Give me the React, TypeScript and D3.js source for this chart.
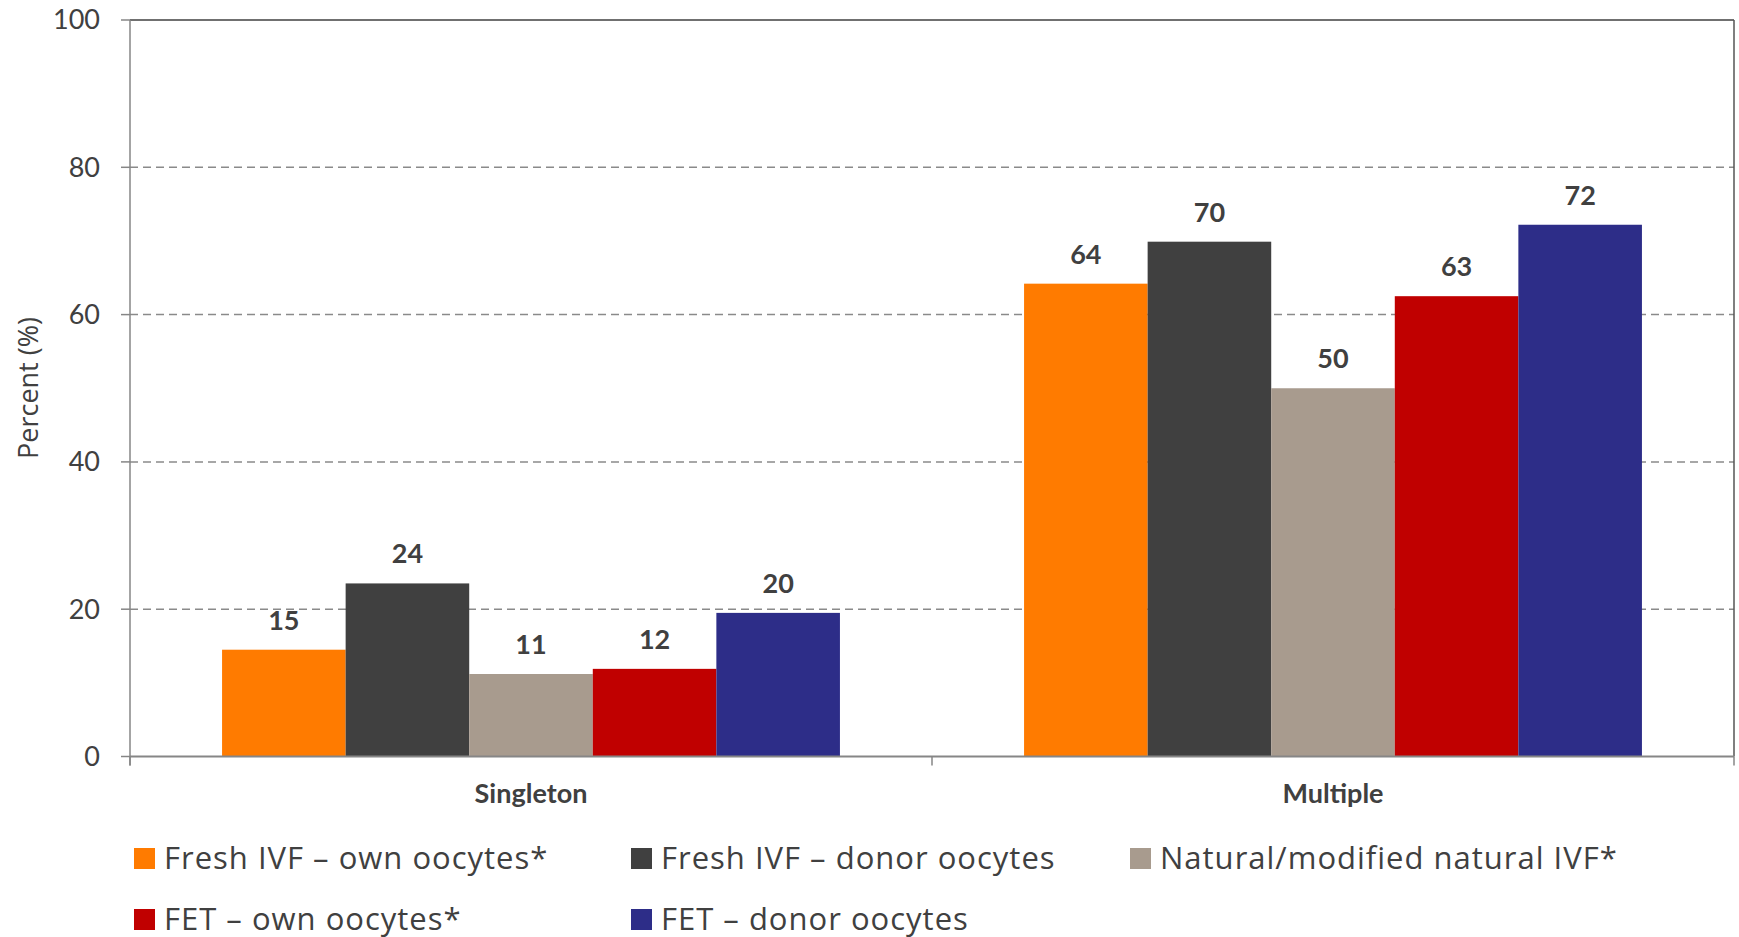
import React from "react";
import * as d3 from "d3";

const categories = ["Singleton", "Multiple"];
const seriesNames = [
  "Fresh IVF – own oocytes*",
  "Fresh IVF – donor oocytes",
  "Natural/modified natural IVF*",
  "FET – own oocytes*",
  "FET – donor oocytes",
];
const seriesColors = ["#FF7B00", "#404040", "#A89B8E", "#C00000", "#2D2D88"];
const singletonValues = [14.5, 23.5, 11.2, 11.9, 19.5];
const multipleValues = [64.2, 69.9, 50.0, 62.5, 72.2];
const singletonLabels = ["15", "24", "11", "12", "20"];
const multipleLabels = ["64", "70", "50", "63", "72"];
const yTicks = [0, 20, 40, 60, 80, 100];

const W = 1739;
const H = 937;
const FONT = "Lato, 'Open Sans', sans-serif";
const FONT2 = "'Open Sans', sans-serif";

export default function App() {
  const left = 130, right = 1734, top = 20, bottom = 756.5;
  const x0 = d3.scaleBand<string>().domain(categories).range([left, right]).paddingInner(0).paddingOuter(0);
  const x1 = d3.scaleBand<string>().domain(seriesNames).range([0, x0.bandwidth()]).paddingInner(0).paddingOuter(0.745);
  const y = d3.scaleLinear().domain([0, 100]).range([bottom, top]);

  const values = [singletonValues, multipleValues];
  const labels = [singletonLabels, multipleLabels];

  const legendPos = [
    { x: 134, y: 848 },
    { x: 631, y: 848 },
    { x: 1130, y: 848 },
    { x: 134, y: 909 },
    { x: 631, y: 909 },
  ];

  const catTicks = [left, left + x0.bandwidth(), right];

  return (
    <svg width={W} height={H} style={{ position: "absolute", left: 0, top: 0, background: "#fff" }} fontFamily={FONT}>
      {/* gridlines */}
      {yTicks.filter((t) => t > 0 && t < 100).map((t) => (
        <line key={"g" + t} x1={left} x2={right} y1={y(t)} y2={y(t)} stroke="#8a8a8a" strokeWidth={1.5} strokeDasharray="8,5" />
      ))}
      {/* top and right border */}
      <line x1={left} x2={right} y1={y(100)} y2={y(100)} stroke="#404040" strokeWidth={1.5} />
      <line x1={right} x2={right} y1={y(100)} y2={bottom} stroke="#555" strokeWidth={1.5} />
      {/* bars */}
      {categories.map((c, ci) =>
        seriesNames.map((s, si) => {
          const bx = (x0(c) as number) + (x1(s) as number);
          const v = values[ci][si];
          return (
            <g key={c + s}>
              <rect x={bx} y={y(v)} width={x1.bandwidth()} height={bottom - y(v)} fill={seriesColors[si]} />
              <text x={bx + x1.bandwidth() / 2} y={y(v) - 20} textAnchor="middle" fontSize={27} fontWeight="bold" fill="#404040">
                {labels[ci][si]}
              </text>
            </g>
          );
        })
      )}
      {/* y axis */}
      <line x1={left} x2={left} y1={y(100)} y2={bottom + 9} stroke="#868686" strokeWidth={1.5} />
      {yTicks.map((t) => (
        <g key={"t" + t}>
          <line x1={left - 9} x2={left} y1={y(t)} y2={y(t)} stroke="#868686" strokeWidth={1.5} />
          <text x={100} y={y(t)} dy="0.35em" textAnchor="end" fontSize={27} fill="#404040">
            {t}
          </text>
        </g>
      ))}
      {/* x axis */}
      <line x1={left} x2={right} y1={bottom} y2={bottom} stroke="#868686" strokeWidth={2} />
      {catTicks.map((t, i) => (
        <line key={"ct" + i} x1={t} x2={t} y1={bottom} y2={bottom + 9} stroke="#868686" strokeWidth={1.5} />
      ))}
      {categories.map((c) => (
        <text key={"cl" + c} x={(x0(c) as number) + x0.bandwidth() / 2} y={803} textAnchor="middle" fontSize={27} fontWeight="bold" fill="#404040">
          {c}
        </text>
      ))}
      {/* y label */}
      <text transform={`translate(38, 388) rotate(-90)`} textAnchor="middle" fontSize={27} fontFamily={FONT2} fill="#404040">
        Percent (%)
      </text>
      {/* legend */}
      {seriesNames.map((s, i) => (
        <g key={"l" + s}>
          <rect x={legendPos[i].x} y={legendPos[i].y} width={21} height={21} fill={seriesColors[i]} />
          <text x={legendPos[i].x + 30} y={legendPos[i].y + 21} fontSize={31} letterSpacing={1} fontFamily={FONT2} fill="#404040">
            {s}
          </text>
        </g>
      ))}
    </svg>
  );
}
